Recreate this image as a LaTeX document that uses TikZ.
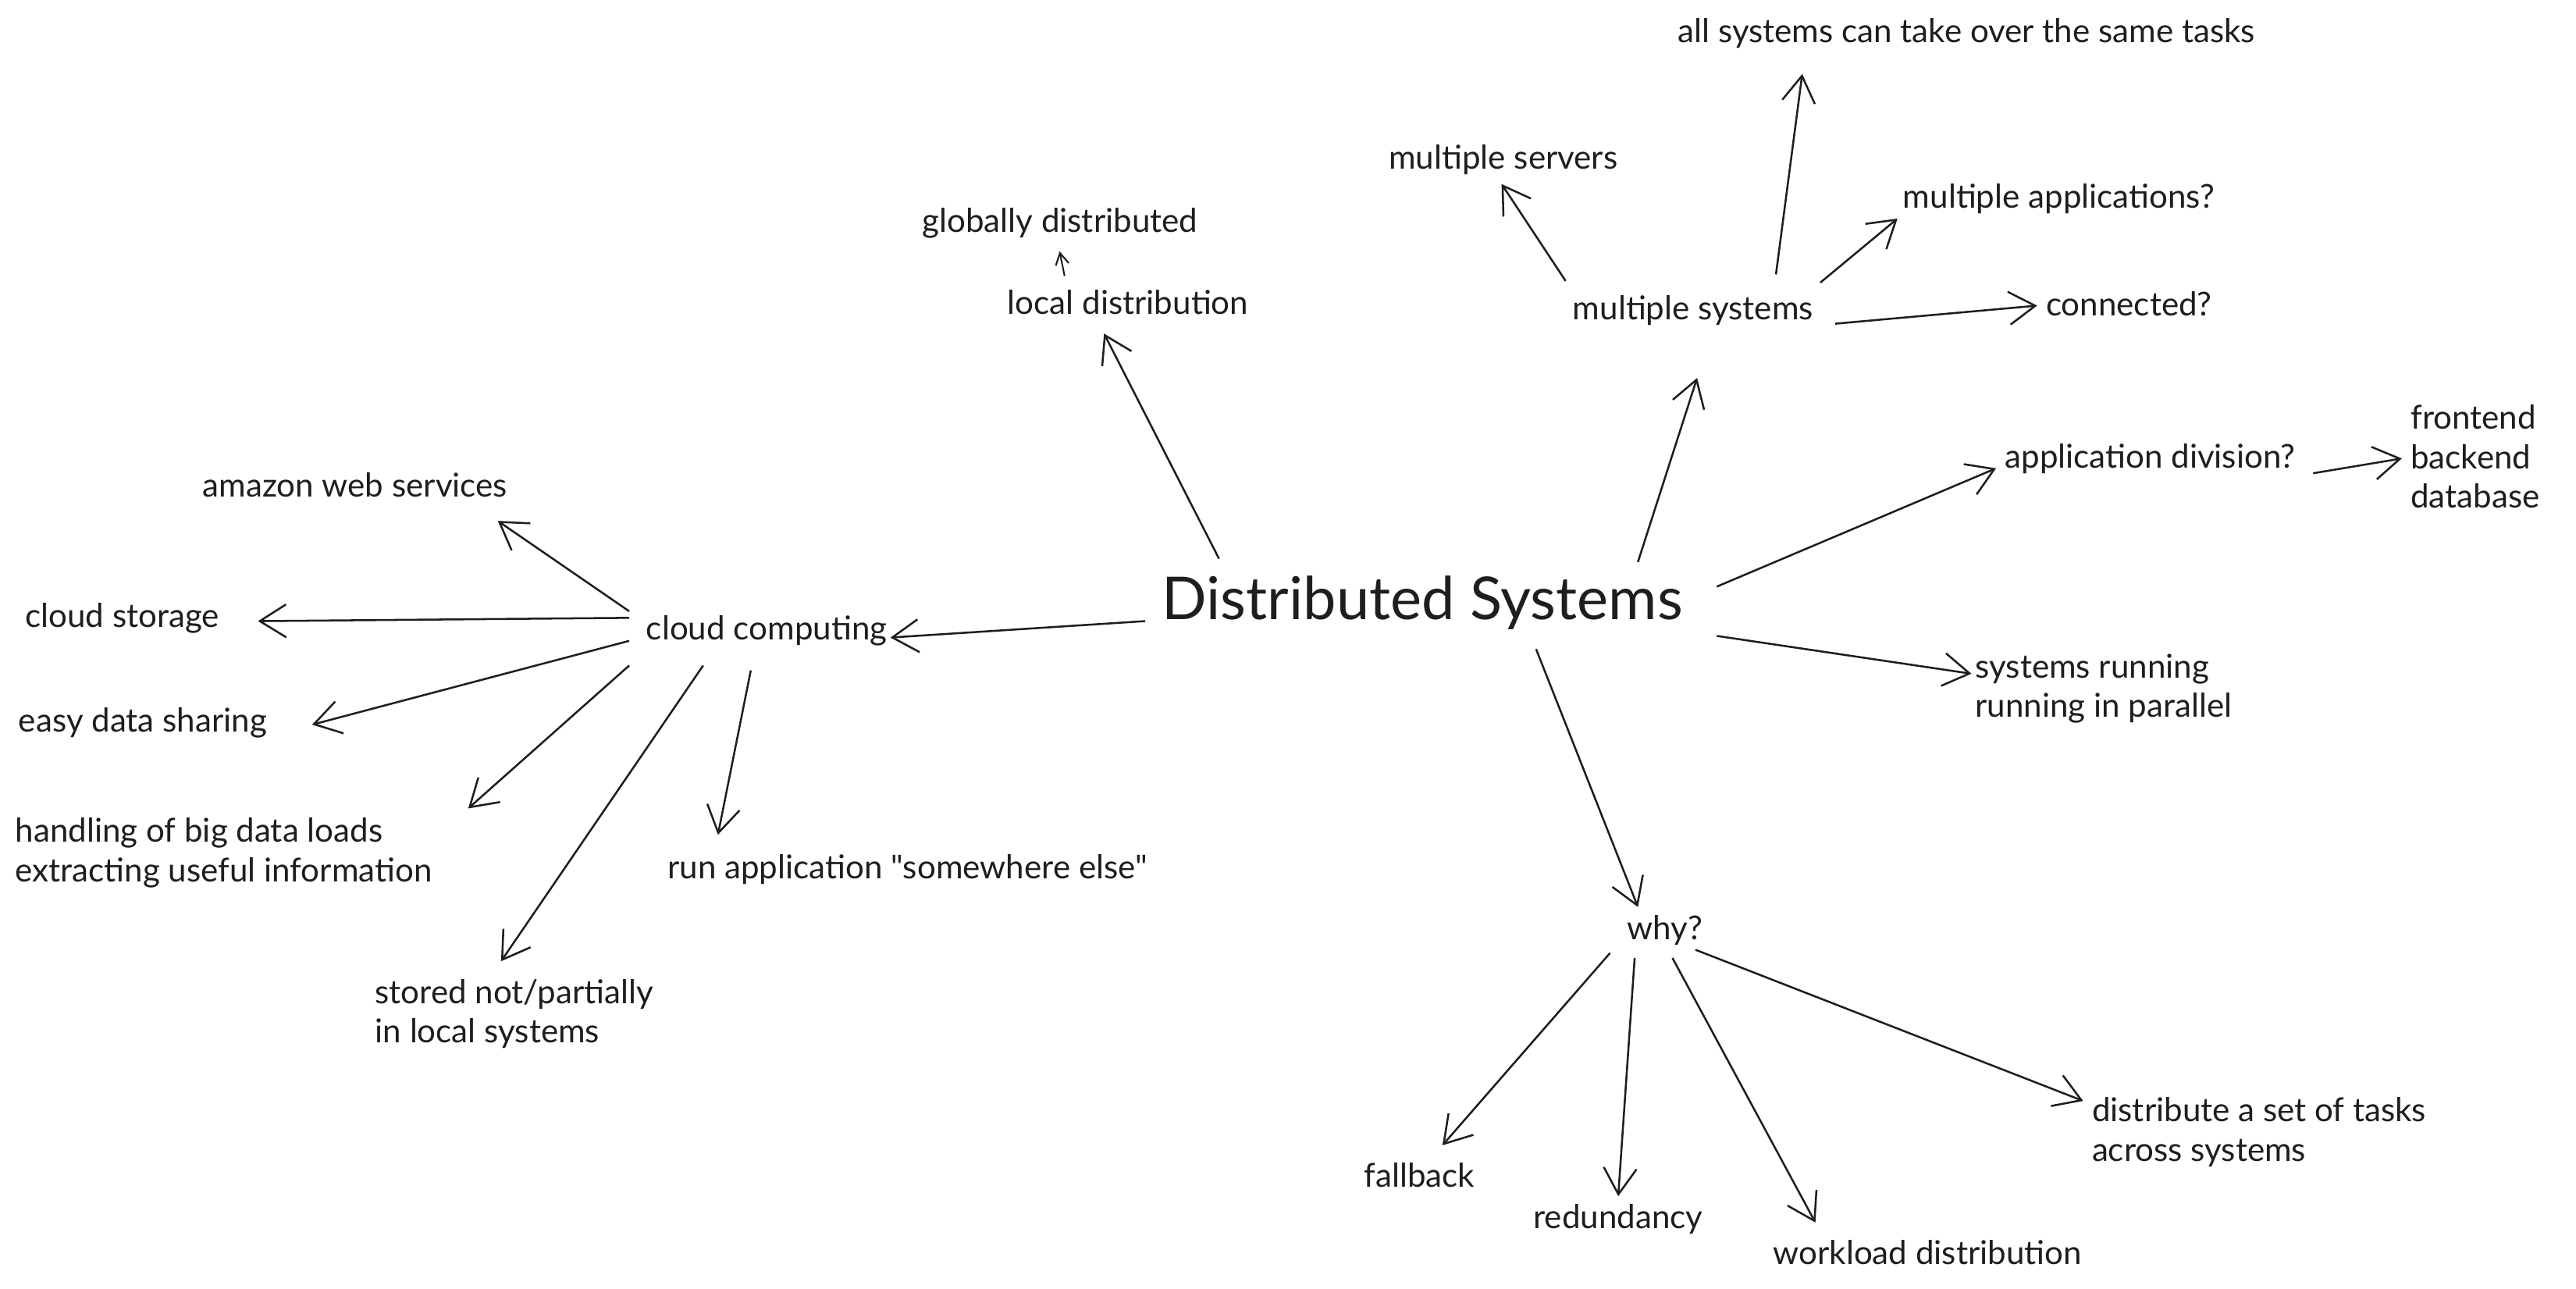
\documentclass[tikz,border=0pt]{standalone}
\usepackage{fontspec}
\setmainfont{Lato}
\usetikzlibrary{arrows.meta}
\definecolor{ink}{HTML}{1E1E1E}
\tikzset{
  lbl/.style={anchor=west, inner sep=0pt, text=ink, font=\fontsize{10}{12}\selectfont, align=left},
  title/.style={anchor=west, inner sep=0pt, text=ink, font=\fontsize{18}{21}\selectfont},
  arr/.style={draw=ink, line width=0.6pt, -{Straight Barb[length=8pt,width=10pt,line width=0.6pt]}},
  sarr/.style={draw=ink, line width=0.5pt, -{Straight Barb[length=3.5pt,width=4pt,line width=0.5pt]}}
}
\begin{document}
\begin{tikzpicture}[x=0.5pt,y=-0.5pt]
\useasboundingbox[fill=white] (0,0) rectangle (1568,784);
% nodes
\node[title] (ds) at (707,367) {Distributed Systems};
\node[lbl] (cc) at (393,384) {cloud computing};
\node[lbl] (ld) at (613,184) {local distribution};
\node[lbl] (gd) at (561,136) {globally distributed};
\node[lbl] (ms) at (957,189) {multiple systems};
\node[lbl] (mserv) at (845,97) {multiple servers};
\node[lbl] (all) at (1021,20) {all systems can take over the same tasks};
\node[lbl] (mapp) at (1158,121) {multiple applications?};
\node[lbl] (conn) at (1245,185) {connected?};
\node[lbl] (ad) at (1220,279) {application division?};
\node[lbl] (fbd) at (1467,278) {frontend\\backend\\database};
\node[lbl] (sr) at (1202,419) {systems running\\running in parallel};
\node[lbl] (why) at (990,566) {why?};
\node[lbl] (fb) at (830,715) {fallback};
\node[lbl] (red) at (933,742) {redundancy};
\node[lbl] (wd) at (1079,762) {workload distribution};
\node[lbl] (dist) at (1273,689) {distribute a set of tasks\\across systems};
\node[lbl] (aws) at (123,295) {amazon web services};
\node[lbl] (cs) at (15,376) {cloud storage};
\node[lbl] (eds) at (11,440) {easy data sharing};
\node[lbl] (hb) at (9,519) {handling of big data loads\\extracting useful information};
\node[lbl] (st) at (228,617) {stored not/partially\\in local systems};
\node[lbl] (ra) at (406,529) {run application \textquotedbl somewhere else\textquotedbl};
% connectors
\draw[arr] ([shift={(-10,11)}]ds.west) -- ([shift={(149,4)}]cc.west);
\draw[arr] ([shift={(35,-27)}]ds.west) -- ([shift={(59,19)}]ld.west);
\draw[sarr] ([shift={(35,-16)}]ld.west) -- ([shift={(84,17)}]gd.west);
\draw[arr] ([shift={(290,-25)}]ds.west) -- ([shift={(76,41)}]ms.west);
\draw[arr] ([shift={(-4,-18)}]ms.west) -- ([shift={(69,15)}]mserv.west);
\draw[arr] ([shift={(124,-22)}]ms.west) -- ([shift={(76,25)}]all.west);
\draw[arr] ([shift={(151,-17)}]ms.west) -- ([shift={(-3,12)}]mapp.west);
\draw[arr] ([shift={(160,8)}]ms.west) -- ([shift={(-5,1)}]conn.west);
\draw[arr] ([shift={(338,-10)}]ds.west) -- ([shift={(-5,6)}]ad.west);
\draw[arr] ([shift={(188,9)}]ad.west) -- ([shift={(-5,1)}]fbd.west);
\draw[arr] ([shift={(338,20)}]ds.west) -- ([shift={(-2,-9)}]sr.west);
\draw[arr] ([shift={(228,28)}]ds.west) -- ([shift={(7,-14)}]why.west);
\draw[arr] ([shift={(-10,14)}]why.west) -- ([shift={(48,-18)}]fb.west);
\draw[arr] ([shift={(5,17)}]why.west) -- ([shift={(52,-14)}]red.west);
\draw[arr] ([shift={(28,17)}]why.west) -- ([shift={(26,-18)}]wd.west);
\draw[arr] ([shift={(42,12)}]why.west) -- ([shift={(-5,-19)}]dist.west);
\draw[arr] ([shift={(-10,-12)}]cc.west) -- ([shift={(180,22)}]aws.west);
\draw[arr] ([shift={(-10,-8)}]cc.west) -- ([shift={(142,2)}]cs.west);
\draw[arr] ([shift={(-10,6)}]cc.west) -- ([shift={(179,1)}]eds.west);
\draw[arr] ([shift={(-10,21)}]cc.west) -- ([shift={(276,-27)}]hb.west);
\draw[arr] ([shift={(35,21)}]cc.west) -- ([shift={(77,-32)}]st.west);
\draw[arr] ([shift={(64,24)}]cc.west) -- ([shift={(31,-21)}]ra.west);
\end{tikzpicture}
\end{document}
